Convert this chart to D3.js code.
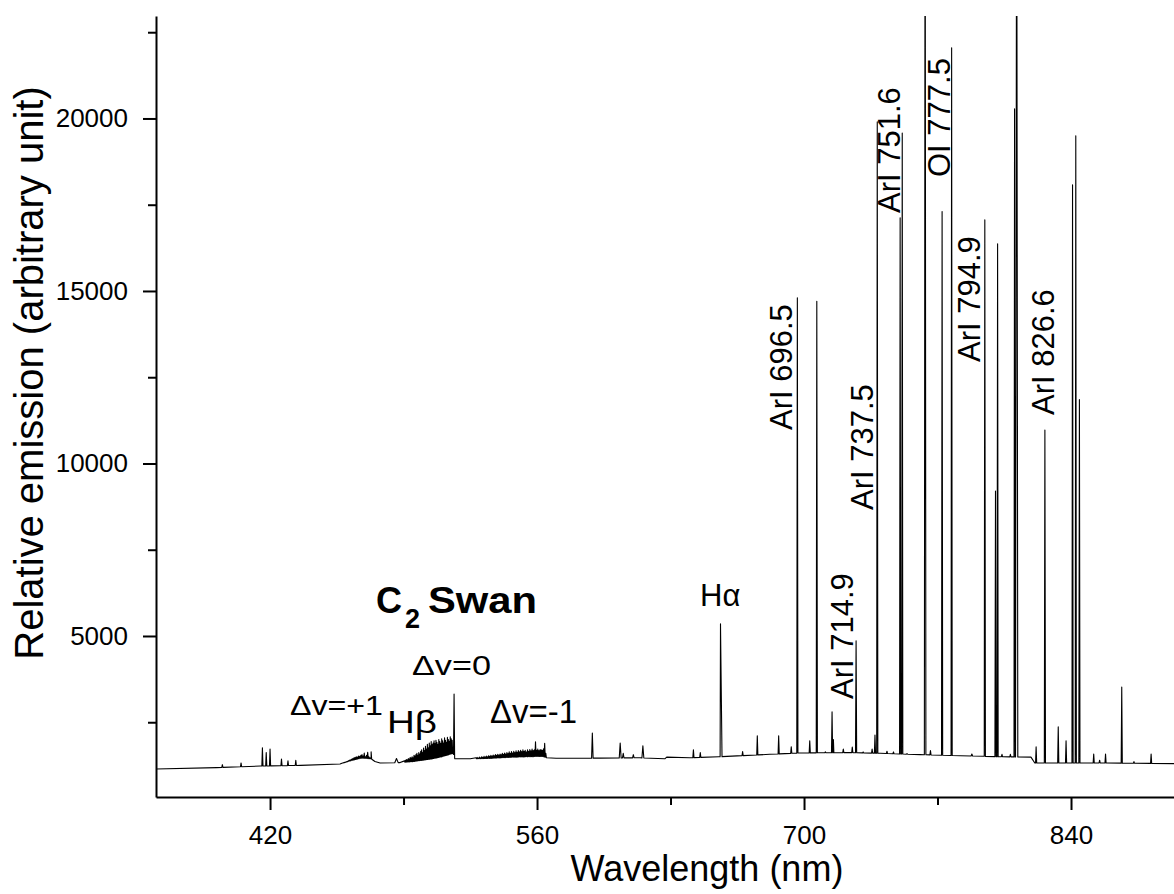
<!DOCTYPE html>
<html>
<head>
<meta charset="utf-8">
<script src="https://cdn.jsdelivr.net/npm/d3@7"></script>
<style>
  html, body { margin: 0; padding: 0; background: #fff; }
  svg { display: block; }
  text { font-family: "Liberation Sans", Arial, sans-serif; fill: #000; }
  g.axis text { font-size: 26px; }
</style>
</head>
<body>
<svg id="chart" width="1174" height="894"></svg>
<script>
// ---------------- DATA ----------------
const xTicksMajor = [420, 560, 700, 840];
const xTicksMinor = [490, 630, 770];
const yTicksMajor = [5000, 10000, 15000, 20000];
const yTicksMinor = [2500, 7500, 12500, 17500, 22500];

// continuum (wavelength nm, intensity)
const continuumW = [360, 392, 415, 436, 456.7, 462, 468, 473, 475, 477.7, 488.2, 495, 500, 505, 510, 516, 516.9, 525, 535, 545, 555, 563, 565, 570, 593, 614, 627, 628, 640, 656, 682, 698, 724, 740, 761, 782, 803, 819, 821, 855.5, 894];
const continuumI = [1145, 1185, 1230, 1250, 1290, 1380, 1460, 1440, 1360, 1320, 1330, 1360, 1400, 1440, 1500, 1600, 1440, 1440, 1450, 1480, 1500, 1510, 1470, 1455, 1460, 1470, 1440, 1490, 1470, 1500, 1570, 1610, 1620, 1600, 1560, 1530, 1500, 1490, 1320, 1320, 1300];

// atomic emission lines
const lineW  = [395.0, 404.8, 416.0, 418.0, 420.0, 426.0, 429.4, 433.5, 486.3, 516.5, 589.0, 603.6, 605.2, 610.5, 615.5, 642.0, 645.6, 656.2, 667.8, 675.5, 686.7, 693.3, 696.5, 703.0, 706.7, 711.2, 714.7, 715.4, 720.6, 725.3, 727.3, 731.0, 735.7, 737.2, 738.4, 743.5, 746.9, 750.4, 751.5, 754.0, 763.5, 766.3, 772.4, 777.4, 788.0, 794.8, 800.4, 801.5, 803.8, 808.2, 810.4, 811.5, 821.7, 826.3, 833.3, 837.4, 840.8, 842.5, 844.4, 851.9, 855.0, 858.1, 866.6, 873.0, 882.0];
const lineI  = [1270, 1320, 1760, 1620, 1725, 1435, 1380, 1400, 1450, 3320, 2190, 1900, 1600, 1560, 1820, 1700, 1620, 5350, 1650, 2110, 2110, 1790, 14800, 1965, 14700, 1640, 2800, 2000, 1725, 1780, 4860, 1640, 1720, 2130, 19900, 1660, 1640, 17120, 19580, 1590, 30000, 1680, 17300, 22050, 1580, 17060, 9200, 16370, 1570, 1570, 20280, 30000, 1785, 10970, 2365, 1960, 18080, 19500, 11850, 1580, 1400, 1580, 3520, 1360, 1580];
const lineHW = [0.3, 0.3, 0.3, 0.3, 0.3, 0.3, 0.3, 0.3, 0.9, 0.3, 0.4, 0.5, 0.4, 0.4, 0.5, 0.3, 0.3, 0.8, 0.3, 0.3, 0.3, 0.3, 0.3, 0.3, 0.3, 0.3, 0.3, 0.25, 0.3, 0.3, 0.3, 0.3, 0.3, 0.3, 0.3, 0.3, 0.3, 0.3, 0.3, 0.3, 0.4, 0.3, 0.3, 0.3, 0.4, 0.3, 0.3, 0.3, 0.3, 0.3, 0.3, 0.6, 0.3, 0.3, 0.3, 0.3, 0.3, 0.3, 0.3, 0.3, 0.3, 0.3, 0.3, 0.3, 0.3];

// C2 Swan band rotational structure (spike tops)
const bandP1Start = 458, bandP1Step = 0.6;
const bandP1 = [1320, 1330, 1340, 1350, 1360, 1380, 1400, 1410, 1430, 1450, 1470, 1480, 1500, 1490, 1520, 1510, 1540, 1560, 1520, 1610, 1500, 1540, 1630, 1500, 1470, 1640, 1420];
const band0Start = 490.5, band0Step = 0.5;
const band0 = [1380, 1400, 1420, 1410, 1450, 1430, 1480, 1460, 1500, 1470, 1540, 1520, 1560, 1600, 1540, 1620, 1580, 1660, 1700, 1620, 1750, 1680, 1800, 1720, 1860, 1760, 1900, 1820, 1940, 1850, 1900, 1960, 1880, 1980, 1920, 1860, 2000, 1940, 1890, 2020, 1960, 1900, 2050, 1980, 1920, 2060, 2000, 1950, 2080, 2020, 1980];
const bandM1Start = 528, bandM1Step = 0.6;
const bandM1 = [1470, 1480, 1460, 1490, 1470, 1500, 1480, 1510, 1490, 1520,
  1500, 1530, 1510, 1540, 1520, 1550, 1530, 1560, 1540, 1570,
  1550, 1580, 1560, 1600, 1570, 1610, 1580, 1620, 1590, 1640,
  1600, 1650, 1610, 1660, 1620, 1670, 1630, 1680, 1640, 1690,
  1650, 1700, 1660, 1690, 1640, 1700, 1660, 1710, 1670, 1720,
  1680, 1700, 1935, 1690, 1720, 1680, 1710, 1700, 1690, 1730,
  1890, 1600];

// line labels
const peakLabels = ["ArI 696.5", "ArI 714.9", "ArI 737.5", "ArI 751.6", "OI 777.5", "ArI 794.9", "ArI 826.6"];

// ---------------- CHART ----------------
const svg = d3.select("#chart");
const pLeft = 156, pRight = 1174, pTop = 16, pBottom = 797;

const x = d3.scaleLinear().domain([360.2, 894]).range([pLeft, pRight]);
const y = d3.scaleLinear().domain([333, 22970]).range([pBottom, pTop]);
const base = d3.scaleLinear().domain(continuumW).range(continuumI).clamp(true);

// build the spectrum points
let pts = continuumW.map((w, i) => [w, continuumI[i]]);
lineW.forEach((w, i) => {
  const d = lineHW[i];
  pts.push([w - d, base(w - d)], [w, lineI[i]], [w + d, base(w + d)]);
});
function addBand(start, step, arr) {
  arr.forEach((h, i) => {
    const w = start + i * step;
    pts.push([w, h], [w + step / 2, base(w + step / 2)]);
  });
}
addBand(bandP1Start, bandP1Step, bandP1);
addBand(band0Start, band0Step, band0);
addBand(bandM1Start, bandM1Step, bandM1);
pts.sort((a, b) => a[0] - b[0]);

svg.append("defs").append("clipPath").attr("id", "plotclip")
  .append("rect").attr("x", pLeft).attr("y", pTop).attr("width", pRight - pLeft).attr("height", pBottom - pTop);

svg.append("path")
  .datum(pts)
  .attr("clip-path", "url(#plotclip)")
  .attr("fill", "none")
  .attr("stroke", "#000")
  .attr("stroke-width", 1.1)
  .attr("stroke-linejoin", "round")
  .attr("d", d3.line().x(d => x(d[0])).y(d => y(d[1])));

// axes
function styleAxis(g) {
  g.attr("class", "axis").attr("font-size", 26).attr("font-family", '"Liberation Sans", Arial, sans-serif');
}
svg.append("g").attr("transform", `translate(0,${pBottom})`)
  .call(d3.axisBottom(x).tickValues(xTicksMajor).tickSize(13).tickSizeOuter(0).tickPadding(16).tickFormat(d3.format("d")))
  .call(styleAxis);
svg.append("g").attr("transform", `translate(0,${pBottom})`)
  .call(d3.axisBottom(x).tickValues(xTicksMinor).tickSize(8).tickSizeOuter(0).tickFormat(""))
  .call(styleAxis)
  .select(".domain").remove();
svg.append("g").attr("transform", `translate(${pLeft},0)`)
  .call(d3.axisLeft(y).tickValues(yTicksMajor).tickSize(13).tickSizeOuter(0).tickPadding(15).tickFormat(d3.format("d")))
  .call(styleAxis);
svg.append("g").attr("transform", `translate(${pLeft},0)`)
  .call(d3.axisLeft(y).tickValues(yTicksMinor).tickSize(8).tickSizeOuter(0).tickFormat(""))
  .call(styleAxis)
  .select(".domain").remove();

svg.selectAll(".domain").attr("stroke", "#000").attr("stroke-width", 2);
svg.selectAll(".tick line").attr("stroke", "#000").attr("stroke-width", 2);
svg.selectAll(".tick text").attr("font-size", 26).attr("fill", "#000");

// axis titles
svg.append("text").attr("x", 707).attr("y", 881).attr("text-anchor", "middle")
  .attr("font-size", 36).text("Wavelength (nm)");
svg.append("text").attr("transform", "translate(43,373) rotate(-90)").attr("text-anchor", "middle")
  .attr("font-size", 40).text("Relative emission (arbitrary unit)");

// rotated peak labels
const labelPos = [[792, 430], [853, 699], [873, 510], [900, 213], [950, 177], [980, 362], [1054, 415]];
peakLabels.forEach((t, i) => {
  svg.append("text").attr("transform", `translate(${labelPos[i][0]},${labelPos[i][1]}) rotate(-90)`)
    .attr("font-size", 31).text(t);
});

// band labels
svg.append("text").attr("x", 376).attr("y", 613).attr("font-size", 36).attr("font-weight", "bold").text("C");
svg.append("text").attr("x", 405).attr("y", 628).attr("font-size", 27).attr("font-weight", "bold").text("2");
svg.append("text").attr("x", 428).attr("y", 613).attr("font-size", 36).attr("font-weight", "bold")
  .attr("textLength", 109).attr("lengthAdjust", "spacingAndGlyphs").text("Swan");
svg.append("text").attr("x", 412).attr("y", 675).attr("font-size", 28)
  .attr("textLength", 79).attr("lengthAdjust", "spacingAndGlyphs").text("Δv=0");
svg.append("text").attr("x", 290).attr("y", 715).attr("font-size", 28)
  .attr("textLength", 93).attr("lengthAdjust", "spacingAndGlyphs").text("Δv=+1");
svg.append("text").attr("x", 490).attr("y", 723).attr("font-size", 33)
  .attr("textLength", 87).attr("lengthAdjust", "spacingAndGlyphs").text("Δv=-1");
svg.append("text").attr("x", 387).attr("y", 733).attr("font-size", 32)
  .attr("textLength", 50).attr("lengthAdjust", "spacingAndGlyphs").text("Hβ");
svg.append("text").attr("x", 700).attr("y", 606).attr("font-size", 31).text("Hα");
</script>
</body>
</html>
